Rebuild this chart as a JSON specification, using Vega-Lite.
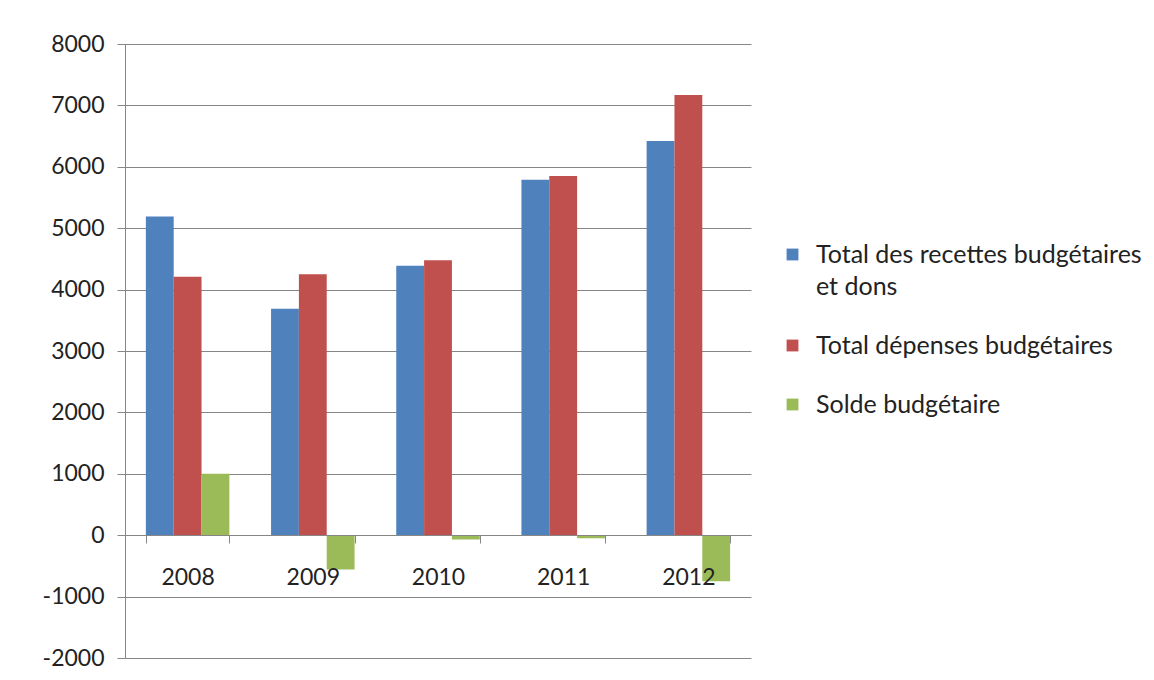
{
  "$schema": "https://vega.github.io/schema/vega-lite/v6.json",
  "width": 626,
  "height": 614,
  "autosize": "none",
  "padding": {"left": 125, "top": 44, "right": 403, "bottom": 22},
  "background": "white",
  "config": {"view": {"stroke": null}, "font": "Lato", "style": {"guide-label": {"lineHeight": 32}}},
  "data": {
    "values": [
      {"annee": "2008", "serie": "Total des recettes budgétaires et dons", "valeur": 5190},
      {"annee": "2008", "serie": "Total dépenses budgétaires", "valeur": 4210},
      {"annee": "2008", "serie": "Solde budgétaire", "valeur": 1000},
      {"annee": "2009", "serie": "Total des recettes budgétaires et dons", "valeur": 3690},
      {"annee": "2009", "serie": "Total dépenses budgétaires", "valeur": 4250},
      {"annee": "2009", "serie": "Solde budgétaire", "valeur": -560},
      {"annee": "2010", "serie": "Total des recettes budgétaires et dons", "valeur": 4390},
      {"annee": "2010", "serie": "Total dépenses budgétaires", "valeur": 4480},
      {"annee": "2010", "serie": "Solde budgétaire", "valeur": -70},
      {"annee": "2011", "serie": "Total des recettes budgétaires et dons", "valeur": 5790},
      {"annee": "2011", "serie": "Total dépenses budgétaires", "valeur": 5850},
      {"annee": "2011", "serie": "Solde budgétaire", "valeur": -50},
      {"annee": "2012", "serie": "Total des recettes budgétaires et dons", "valeur": 6420},
      {"annee": "2012", "serie": "Total dépenses budgétaires", "valeur": 7170},
      {"annee": "2012", "serie": "Solde budgétaire", "valeur": -750}
    ]
  },
  "mark": {"type": "bar"},
  "encoding": {
    "x": {
      "field": "annee",
      "type": "nominal",
      "scale": {"paddingInner": 0.333, "paddingOuter": 0.1667},
      "axis": {
        "title": null,
        "labelAngle": 0,
        "orient": "bottom",
        "offset": -123,
        "tickBand": "extent",
        "domainColor": "#868686",
        "tickColor": "#868686",
        "tickSize": 8,
        "labelFontSize": 23,
        "labelColor": "#222222",
        "labelPadding": 23,
        "zindex": 1
      }
    },
    "xOffset": {
      "field": "serie",
      "type": "nominal",
      "sort": ["Total des recettes budgétaires et dons", "Total dépenses budgétaires", "Solde budgétaire"]
    },
    "y": {
      "field": "valeur",
      "type": "quantitative",
      "scale": {"domain": [-2000, 8000], "nice": false, "zero": false},
      "axis": {
        "title": null,
        "values": [-2000, -1000, 0, 1000, 2000, 3000, 4000, 5000, 6000, 7000, 8000],
        "labelExpr": "'' + datum.value",
        "gridColor": "#868686",
        "domainColor": "#868686",
        "tickColor": "#868686",
        "tickSize": 8,
        "labelFontSize": 23,
        "labelColor": "#222222",
        "labelPadding": 13
      }
    },
    "color": {
      "field": "serie",
      "type": "nominal",
      "sort": ["Total des recettes budgétaires et dons", "Total dépenses budgétaires", "Solde budgétaire"],
      "scale": {
        "domain": ["Total des recettes budgétaires et dons", "Total dépenses budgétaires", "Solde budgétaire"],
        "range": ["#4F81BD", "#C0504D", "#9BBB59"]
      },
      "legend": {
        "title": null,
        "orient": "none",
        "legendX": 655,
        "legendY": 198,
        "symbolType": "square",
        "symbolSize": 140,
        "symbolStrokeWidth": 0,
        "labelFontSize": 25,
        "labelColor": "#222222",
        "labelOffset": 11,
        "labelLimit": 400,
        "rowPadding": 33,
        "labelExpr": "datum.label == 'Total des recettes budgétaires et dons' ? ['Total des recettes budgétaires', 'et dons'] : datum.label"
      }
    }
  }
}
